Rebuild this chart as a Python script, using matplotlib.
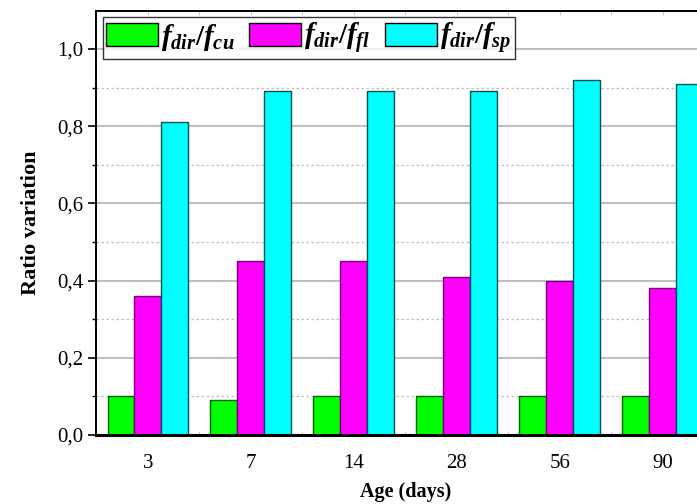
import matplotlib
matplotlib.use("Agg")
import matplotlib.pyplot as plt
import numpy as np
from matplotlib.ticker import FuncFormatter, MultipleLocator, FixedLocator

plt.rcParams['font.family'] = 'Liberation Serif'
plt.rcParams['mathtext.fontset'] = 'custom'
plt.rcParams['mathtext.it'] = 'Liberation Serif:italic:bold'
plt.rcParams['mathtext.rm'] = 'Liberation Serif:bold'
plt.rcParams['mathtext.bf'] = 'Liberation Serif:italic:bold'

ages = ['3', '7', '14', '28', '56', '90']
ratio_cu = [0.10, 0.09, 0.10, 0.10, 0.10, 0.10]
ratio_fl = [0.36, 0.45, 0.45, 0.41, 0.40, 0.38]
ratio_sp = [0.81, 0.89, 0.89, 0.89, 0.92, 0.91]

series = [
    (ratio_cu, '#00ff00', '#006400', r'$f_{dir}/f_{cu}$'),
    (ratio_fl, '#ff00ff', '#7a007a', r'$f_{dir}/f_{fl}$'),
    (ratio_sp, '#00ffff', '#005050', r'$f_{dir}/f_{sp}$'),
]

fig = plt.figure(figsize=(6.97, 5.04), dpi=100)
ax = fig.add_axes([0.1377, 0.137, 0.888, 0.841])

x = np.arange(len(ages))
w = 0.262
for i, (vals, fc, ec, lab) in enumerate(series):
    ax.bar(x + (i - 1) * w, vals, width=w, color=fc, edgecolor=ec,
           linewidth=1.0, label=lab, zorder=3)

ax.set_xlim(-0.505, 5.505)
ax.set_ylim(0, 1.098)

ax.yaxis.set_major_locator(MultipleLocator(0.2))
ax.yaxis.set_minor_locator(MultipleLocator(0.1))
ax.yaxis.set_major_formatter(FuncFormatter(lambda v, p: f"{v:.1f}".replace('.', ',')))
ax.set_xticks(x)
ax.set_xticklabels(ages)
ax.xaxis.set_minor_locator(FixedLocator(x[:-1] + 0.5))

ax.grid(axis='y', which='major', color='#c0c0c0', linewidth=1.5, zorder=0)
ax.grid(axis='y', which='minor', color='#bdbdbd', linewidth=0.9,
        linestyle=(0, (2, 2)), zorder=0)

ax.tick_params(axis='y', which='major', direction='out', length=6, width=1.2,
               labelsize=15, pad=3)
ax.tick_params(axis='y', which='minor', direction='out', length=3, width=1.0)
ax.tick_params(axis='x', which='both', direction='in', length=3, width=0.6,
               color='#bbbbbb', labelsize=15, pad=14, top=True)

for s in ['left', 'top']:
    ax.spines[s].set_linewidth(1.4)
ax.spines['bottom'].set_linewidth(2.2)
ax.spines['bottom'].set_zorder(5)
ax.spines['right'].set_visible(False)

ax.set_ylabel('Ratio variation', fontsize=16, fontweight='bold', labelpad=12)
ax.set_xlabel('Age (days)', fontsize=14.5, fontweight='bold', labelpad=6)

leg = ax.legend(loc='upper left', ncol=3, fontsize=21, frameon=True,
                fancybox=False, edgecolor='black', handlelength=1.78,
                handleheight=0.8, handletextpad=0.1, columnspacing=0.5,
                borderpad=0.12, borderaxespad=0.0,
                bbox_to_anchor=(0.011, 0.985))
leg.get_frame().set_linewidth(1.0)
for h in leg.legend_handles:
    h.set_edgecolor('black')
    h.set_linewidth(1.0)

fig.savefig('out.png', dpi=100)
